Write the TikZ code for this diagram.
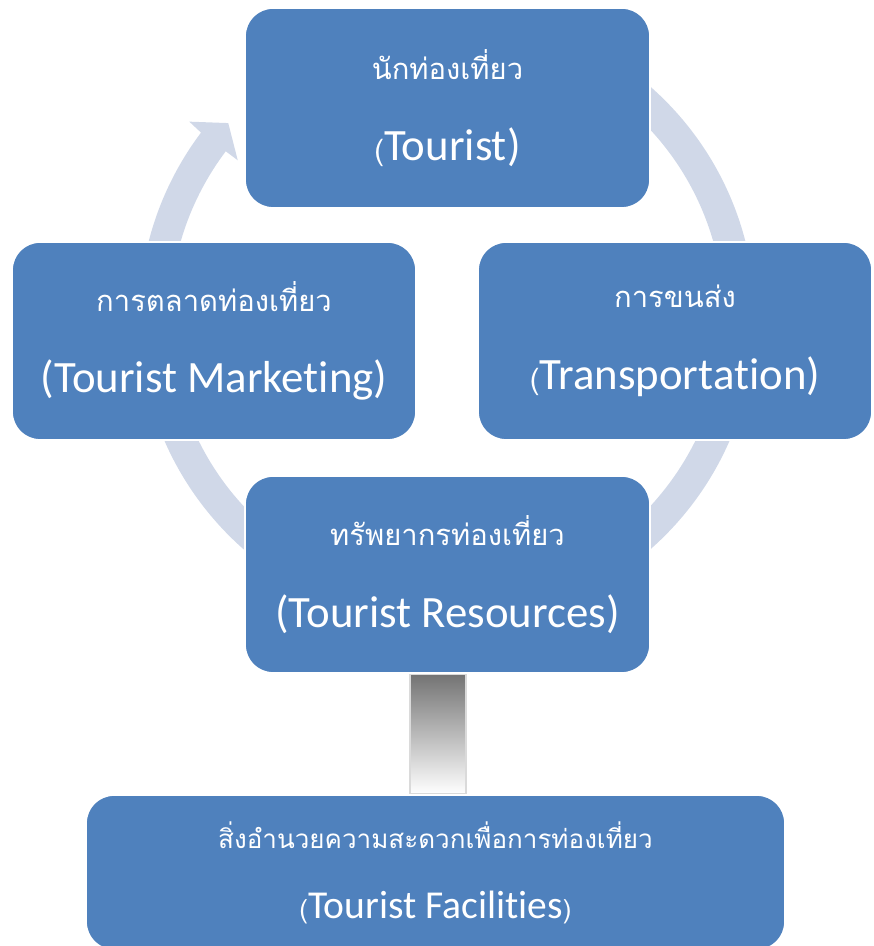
\documentclass[tikz,border=0pt]{standalone}
\usepackage{fontspec}
\setmainfont{Carlito}[Ligatures=CommonOff]
\newfontfamily\thaifont[Script=Thai]{Loma}
\usetikzlibrary{calc}
\pgfdeclarelayer{edgelayer}
\pgfdeclarelayer{nodelayer}
\pgfsetlayers{edgelayer,nodelayer,main}
\definecolor{boxblue}{HTML}{4F81BD}
\definecolor{ringblue}{HTML}{D0D8E8}
\definecolor{bartop}{HTML}{737373}
\definecolor{barline}{HTML}{DADADA}
\newcommand{\thline}[1]{{\fontsize{16.6}{20}\thaifont #1}}
\newcommand{\thsmall}[1]{{\fontsize{14.8}{18}\thaifont #1}}
\tikzset{font=\fontsize{25.5}{30}\selectfont}
\tikzstyle{none}=[inner sep=0pt]
\tikzstyle{box}=[rectangle,rounded corners=0.56cm,fill=boxblue,draw=white,line width=1pt,text=white,align=center,inner sep=0pt]
\tikzstyle{ring}=[fill=ringblue]
\tikzstyle{bar}=[top color=bartop,bottom color=white,draw=barline,line width=1.5pt]

\begin{document}
\begin{tikzpicture}
	\useasboundingbox (0,0) rectangle (17.46,18.92);
	\begin{pgfonlayer}{nodelayer}
		\node [style=none] (0) at (8.94, 12.56) {};
		\node [style=box, minimum width=8.1cm, minimum height=4cm] (1) at (8.95, 16.76) {\thline{นักท่องเที่ยว}\\[16.5pt]\thline{(}Tourist)};
		\node [style=box, minimum width=8.08cm, minimum height=3.96cm] (2) at (4.28, 12.1) {\thline{การตลาดท่องเที่ยว}\\[16.5pt](Tourist Marketing)};
		\node [style=box, minimum width=7.88cm, minimum height=3.96cm] (3) at (13.5, 12.1) {\thline{การขนส่ง}\\[16.5pt]\thline{(}Transportation)};
		\node [style=box, minimum width=8.1cm, minimum height=3.94cm] (4) at (8.95, 7.43) {\thline{ทรัพยากรท่องเที่ยว}\\[16.5pt](Tourist Resources)};
		\node [style=box, minimum width=13.98cm, minimum height=3.1cm, font=\fontsize{22.5}{27}\selectfont] (5) at (8.71, 1.47) {\thsmall{สิ่งอำนวยความสะดวกเพื่อการท่องเที่ยว}\\[12.7pt]\thsmall{(}Tourist Facilities\thsmall{)}};
	\end{pgfonlayer}
	\begin{pgfonlayer}{edgelayer}
		\fill [style=ring] ($(0.center)+(90:6.16)$) arc [start angle=90, end angle=-217, radius=6.16cm]
			-- ($(0.center)+(142.7:6.48)$) -- ($(0.center)+(138.3:5.86)$) -- ($(0.center)+(143:5.24)$)
			-- ($(0.center)+(143:5.54)$) arc [start angle=-217, end angle=90, radius=5.54cm] -- cycle;
		\draw [style=bar] ([xshift=-0.75cm]4.south) rectangle ([xshift=0.37cm]4.south |- 5.north);
	\end{pgfonlayer}
\end{tikzpicture}
\end{document}
